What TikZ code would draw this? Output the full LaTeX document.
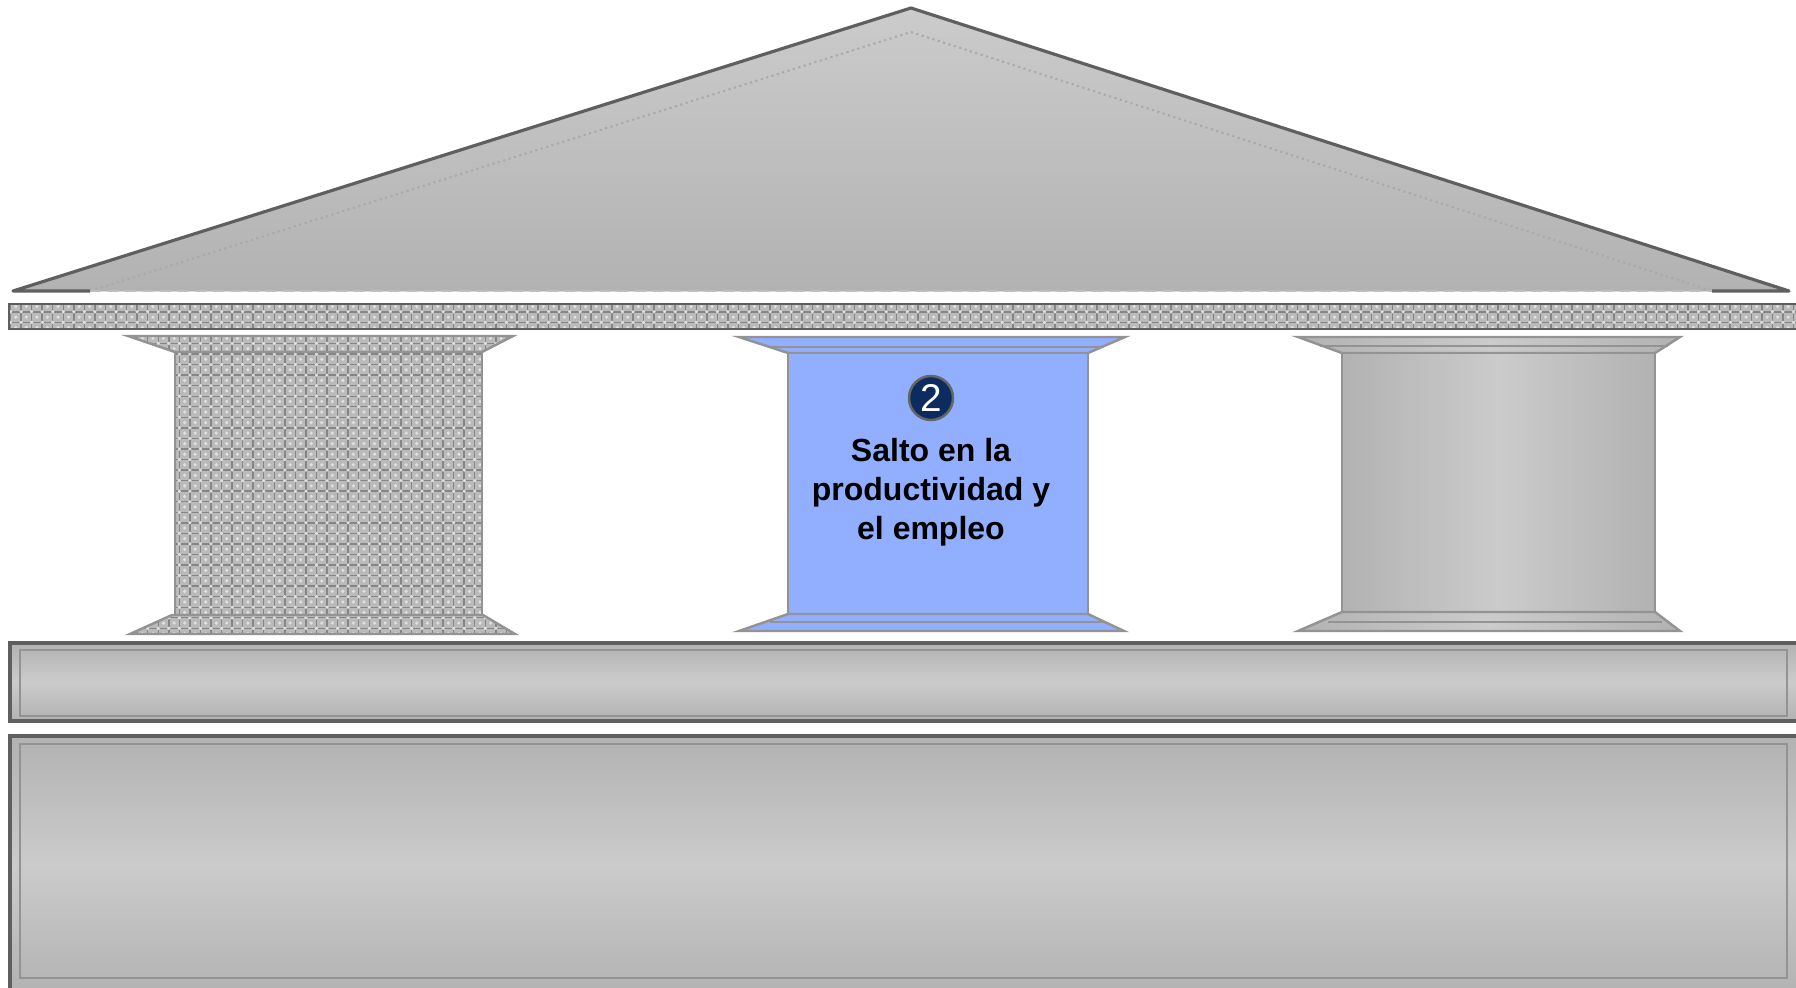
\documentclass[tikz,border=0pt]{standalone}
\usepackage{fontspec}
\setmainfont{Liberation Sans}
\usetikzlibrary{patterns, positioning}

\definecolor{edgedark}{HTML}{5F5F5F}
\definecolor{edgegray}{HTML}{939393}
\definecolor{stonelight}{HTML}{CBCBCB}
\definecolor{stonedark}{HTML}{B2B2B2}
\definecolor{pillarblue}{HTML}{91AEFF}
\definecolor{badgenavy}{HTML}{0C2B5F}

\begin{document}
\begin{tikzpicture}[x=0.01cm, y=-0.01cm,
        stipple/.style={fill=black!27, postaction={pattern=grid, pattern color=black!48},
                postaction={pattern=crosshatch dots, pattern color=black!12}},
        slab/.style={top color=stonedark, bottom color=stonedark, middle color=stonelight},
        shaft/.style={left color=stonedark, right color=stonedark, middle color=stonelight},
        rim/.style={draw=edgegray, line width=0.7pt, line join=miter},
        badge/.style={circle, draw=black!60, line width=0.7pt, fill=badgenavy,
                text=white, minimum size=0.44cm, inner sep=0pt,
                font=\fontsize{11}{11}\selectfont},
        caption/.style={align=center, font=\fontsize{9.1}{11.1}\selectfont\bfseries}]

    \useasboundingbox (0,0) rectangle (1796,987);
    \clip (0,0) rectangle (1796,987);

    % roof
    \fill[top color=stonelight, bottom color=stonedark] (13,291) -- (911,8) -- (1789,291) -- cycle;
    \draw[edgegray!80, densely dotted, line width=0.6pt] (90,291) -- (911,32) -- (1712,291);
    \draw[edgegray!60, densely dashed, line width=0.3pt] (90,291) -- (1712,291);
    \draw[edgedark, line width=0.9pt, line join=round] (90,291) -- (13,291) -- (911,8) -- (1789,291) -- (1712,291);

    % beam
    \path[stipple] (9,304) rectangle (1800,329);
    \draw[edgedark, line width=0.8pt] (9,304) rectangle (1800,329);

    % pillar 1
    \path[stipple] (128,336) -- (513,336) -- (482,352) -- (175,352) -- cycle;
    \path[stipple] (175,352) rectangle (482,615);
    \path[stipple] (172,615) -- (483,615) -- (515,634) -- (130,634) -- cycle;
    \draw[rim] (128,336) -- (513,336) -- (482,352) -- (175,352) -- cycle;
    \draw[rim] (175,352) rectangle (482,615);
    \draw[rim] (172,615) -- (483,615) -- (515,634) -- (130,634) -- cycle;

    % pillar 2
    \draw[rim, fill=pillarblue] (739,337) -- (1125,337) -- (1088,353) -- (788,353) -- cycle;
    \draw[rim] (770,347) -- (1100,347);
    \draw[rim, fill=pillarblue] (788,353) rectangle (1088,614);
    \draw[rim, fill=pillarblue] (788,614) -- (1088,614) -- (1124,631) -- (739,631) -- cycle;
    \draw[rim] (770,622) -- (1105,622);

    \node[badge] (num) at (931,398) {2};
    \node[caption, below=0.05cm of num] (salto) {Salto en la\\productividad y\\el empleo};

    % pillar 3
    \draw[rim, shaft] (1298,337) -- (1680,337) -- (1655,353) -- (1342,353) -- cycle;
    \draw[rim] (1320,346) -- (1668,346);
    \draw[rim, shaft] (1342,353) rectangle (1655,612);
    \draw[rim, shaft] (1342,612) -- (1655,612) -- (1680,631) -- (1298,631) -- cycle;
    \draw[rim] (1328,622) -- (1662,622);

    % base slabs
    \draw[edgedark, line width=0.9pt, slab] (10,643) rectangle (1800,721);
    \draw[rim] (20,650) rectangle (1787,716);
    \draw[edgedark, line width=0.9pt, slab] (10,736) rectangle (1800,995);
    \draw[rim] (20,744) rectangle (1787,978);
\end{tikzpicture}
\end{document}
